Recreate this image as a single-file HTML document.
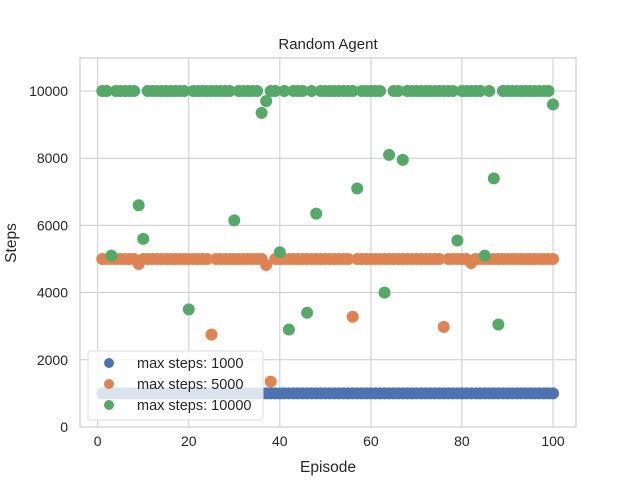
<!DOCTYPE html>
<html><head><meta charset="utf-8"><style>
body{margin:0;background:#fff;}
svg text{font-family:"Liberation Sans","DejaVu Sans",sans-serif;fill:#262626;}
</style></head><body>
<svg id="chart" width="640" height="480" xmlns="http://www.w3.org/2000/svg">
<g id="grid"></g>
<g id="marks"></g>
<rect x="80" y="58" width="496" height="369" fill="none" stroke="#ccc" stroke-width="1.2"/>
<g id="ticks"></g>
<text x="328" y="49" text-anchor="middle" font-size="15">Random Agent</text>
<text x="328" y="472" text-anchor="middle" font-size="15.5">Episode</text>
<text x="16" y="243" text-anchor="middle" font-size="15.5" transform="rotate(-90 16 243)">Steps</text>
<g>
<rect x="88" y="351" width="175" height="69" rx="3" fill="#fff" fill-opacity="0.8" stroke="#ddd"/>
<circle cx="109" cy="363" r="5" fill="#4c72b0"/>
<text x="137" y="368" font-size="14.5">max steps: 1000</text>
<circle cx="109" cy="384" r="5" fill="#dd8452"/>
<text x="137" y="389" font-size="14.5">max steps: 5000</text>
<circle cx="109" cy="405" r="5" fill="#55a868"/>
<text x="137" y="410" font-size="14.5">max steps: 10000</text>
</g>
</svg>
<script>
const xTicks=[0,20,40,60,80,100];
const yTicks=[0,2000,4000,6000,8000,10000];
const blueVals=[];for(let i=0;i<100;i++)blueVals.push(1000);
const orangeExceptions={9:4850,25:2750,37:4820,38:1350,56:3280,76:2980,82:4880};
const greenExceptions={3:5100,9:6600,10:5600,20:3500,30:6150,36:9350,37:9700,40:5200,42:2900,46:3400,48:6350,57:7100,63:4000,64:8100,67:7950,79:5550,85:5100,87:7400,88:3050,100:9600};
const orangeVals=[];for(let e=1;e<=100;e++)orangeVals.push(orangeExceptions[e]!==undefined?orangeExceptions[e]:5000);
const greenVals=[];for(let e=1;e<=100;e++)greenVals.push(greenExceptions[e]!==undefined?greenExceptions[e]:10000);
const X=v=>97.7+(v)*4.553;
const Y=v=>427-v*0.0336;
const NS="http://www.w3.org/2000/svg";
function mk(t,a,p){const el=document.createElementNS(NS,t);for(const k in a)el.setAttribute(k,a[k]);p.appendChild(el);return el;}
const grid=document.getElementById('grid'),ticks=document.getElementById('ticks'),marks=document.getElementById('marks');
xTicks.forEach(t=>{const l=mk('line',{x1:X(t),x2:X(t),y1:58,y2:427,stroke:'#ccc','stroke-width':1},grid);


const tx=mk('text',{x:X(t),y:446,'text-anchor':'middle','font-size':14},ticks);tx.textContent=t;

});
yTicks.forEach(t=>{const l=mk('line',{x1:80,x2:576,y1:Y(t),y2:Y(t),stroke:'#ccc','stroke-width':1},grid);


const tx=mk('text',{x:68,y:Y(t)+5,'text-anchor':'end','font-size':14},ticks);tx.textContent=t;

});
[[blueVals,'#4c72b0','point-1000'],[orangeVals,'#dd8452','point-5000'],[greenVals,'#55a868','point-10000']].forEach(([vals,c,n])=>{
vals.forEach((v,i)=>{const p=mk('circle',{cx:X(i+1),cy:Y(v),r:6,fill:c},marks);

});});
</script>
</body></html>
